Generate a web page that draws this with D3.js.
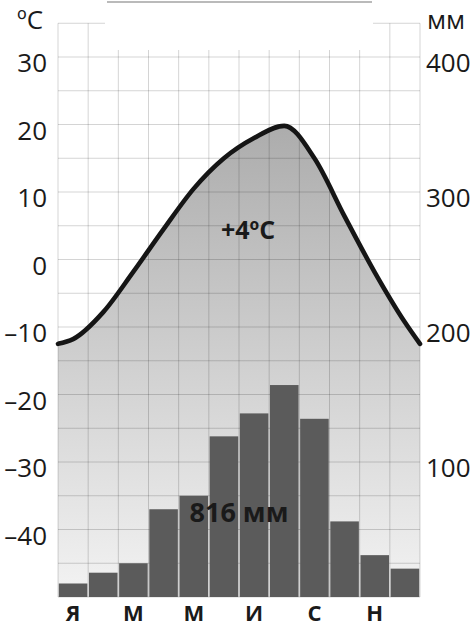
<!DOCTYPE html>
<html>
<head>
<meta charset="utf-8">
<script src="https://cdn.jsdelivr.net/npm/d3@7"></script>
<style>
  body { margin: 0; background: #fff; }
  svg { display: block; font-family: "Open Sans", sans-serif; }
</style>
</head>
<body>
<div id="chart"></div>
<script>
// data
const months = ['Я', 'Ф', 'М', 'А', 'М', 'И', 'И', 'А', 'С', 'О', 'Н', 'Д'];
const monthLabels = ['Я', '', 'М', '', 'М', '', 'И', '', 'С', '', 'Н', ''];
const temps = [-11.8, -7.8, -1.8, 4.5, 10.5, 15, 18, 19.8, 15, 6.4, -1.9, -9.3];
const tempEdges = [-12.5, -12.5];   // curve value at the left and right border
const precip = [10, 18, 25, 65, 75, 119, 136, 157, 132, 56, 31, 21];
const tempTicks = [30, 20, 10, 0, -10, -20, -30, -40];
const precipTicks = [400, 300, 200, 100];
const tempNote = '+4ºC';
const precipNote = '816 мм';

const WIDTH = 472, HEIGHT = 628;
const MARGINS = {left: 58, right: 52, top: 23.25, bottom: 31};

const svg = d3.select('#chart').append('svg')
  .attr('width', WIDTH)
  .attr('height', HEIGHT);

// scales
const x = d3.scaleBand().domain(d3.range(12)).range([MARGINS.left, WIDTH - MARGINS.right]).padding(0);
const yT = d3.scaleLinear().domain([-50, 35]).range([HEIGHT - MARGINS.bottom, MARGINS.top]);
const yP = d3.scaleLinear().domain([0, 425]).range([HEIGHT - MARGINS.bottom, MARGINS.top]);
const bw = x.bandwidth();

// gradient for the area under the temperature curve
const grad = svg.append('defs').append('linearGradient')
  .attr('id', 'fillGrad')
  .attr('gradientUnits', 'userSpaceOnUse')
  .attr('x1', 0).attr('x2', 0)
  .attr('y1', yT(30)).attr('y2', yT(-50));
grad.append('stop').attr('offset', 0).attr('stop-color', '#a2a2a2');
grad.append('stop').attr('offset', 1).attr('stop-color', '#f3f3f3');

// curve points: borders + month centres
const pts = [[x.range()[0], tempEdges[0]]]
  .concat(temps.map((t, i) => [x(i) + bw / 2, t]))
  .concat([[x.range()[1], tempEdges[1]]]);

const area = d3.area()
  .x(d => d[0])
  .y0(yT(-50))
  .y1(d => yT(d[1]))
  .curve(d3.curveMonotoneX);

svg.append('path')
  .attr('d', area(pts))
  .attr('fill', 'url(#fillGrad)');

// grid
const grid = svg.append('g')
  .attr('stroke', '#000')
  .attr('stroke-opacity', 0.17)
  .attr('stroke-width', 1);

grid.selectAll('.h')
  .data(d3.range(-50, 36, 5))
  .join('line')
  .attr('x1', x.range()[0]).attr('x2', x.range()[1])
  .attr('y1', d => yT(d)).attr('y2', d => yT(d));

grid.selectAll('.v')
  .data(d3.range(13))
  .join('line')
  .attr('x1', d => x.range()[0] + d * bw).attr('x2', d => x.range()[0] + d * bw)
  .attr('y1', yT(35)).attr('y2', yT(-50));

// white patch at the top (cut title area)
svg.append('rect')
  .attr('x', 105).attr('y', 0)
  .attr('width', 268).attr('height', 50)
  .attr('fill', '#fff');
svg.append('line')
  .attr('x1', 107).attr('x2', 372)
  .attr('y1', 2).attr('y2', 2)
  .attr('stroke', '#777')
  .attr('stroke-width', 1.2);

// precipitation bars
svg.append('g').selectAll('rect')
  .data(precip)
  .join('rect')
  .attr('x', (d, i) => x(i) + 0.8)
  .attr('width', bw - 1.6)
  .attr('y', d => yP(d))
  .attr('height', d => yP(0) - yP(d))
  .attr('fill', '#5b5b5b');

// temperature curve
const line = d3.line()
  .x(d => d[0])
  .y(d => yT(d[1]))
  .curve(d3.curveMonotoneX);

svg.append('path')
  .attr('d', line(pts))
  .attr('fill', 'none')
  .attr('stroke', '#151515')
  .attr('stroke-width', 4.6)
  .attr('stroke-linecap', 'round');

// left axis labels
svg.append('g').selectAll('text')
  .data(tempTicks)
  .join('text')
  .attr('x', 47)
  .attr('y', d => yT(d) + 15)
  .attr('text-anchor', 'end')
  .attr('font-size', 26)
  .attr('fill', '#1a1a1a')
  .text(d => d < 0 ? '–' + Math.abs(d) : d);

// right axis labels
svg.append('g').selectAll('text')
  .data(precipTicks)
  .join('text')
  .attr('x', 426)
  .attr('y', d => yP(d) + 15)
  .attr('font-size', 26)
  .attr('fill', '#1a1a1a')
  .text(d => d);

// units
svg.append('text')
  .attr('x', 17).attr('y', 29)
  .attr('font-size', 26).attr('fill', '#1a1a1a')
  .text('ºC');
svg.append('text')
  .attr('x', 427).attr('y', 29)
  .attr('font-size', 26).attr('fill', '#1a1a1a')
  .text('мм');

// month labels
svg.append('g').selectAll('text')
  .data(monthLabels)
  .join('text')
  .attr('x', (d, i) => x(i) + bw / 2)
  .attr('y', 621)
  .attr('text-anchor', 'middle')
  .attr('font-size', 22)
  .attr('font-weight', 'bold')
  .attr('fill', '#1a1a1a')
  .text(d => d);

// annual notes
svg.append('text')
  .attr('x', 248).attr('y', 239)
  .attr('text-anchor', 'middle')
  .attr('font-size', 25)
  .attr('font-weight', 'bold')
  .attr('fill', '#1a1a1a')
  .text(tempNote);
svg.append('text')
  .attr('x', 239).attr('y', 522)
  .attr('text-anchor', 'middle')
  .attr('font-size', 27)
  .attr('font-weight', 'bold')
  .attr('fill', '#1a1a1a')
  .text(precipNote);
</script>
</body>
</html>
